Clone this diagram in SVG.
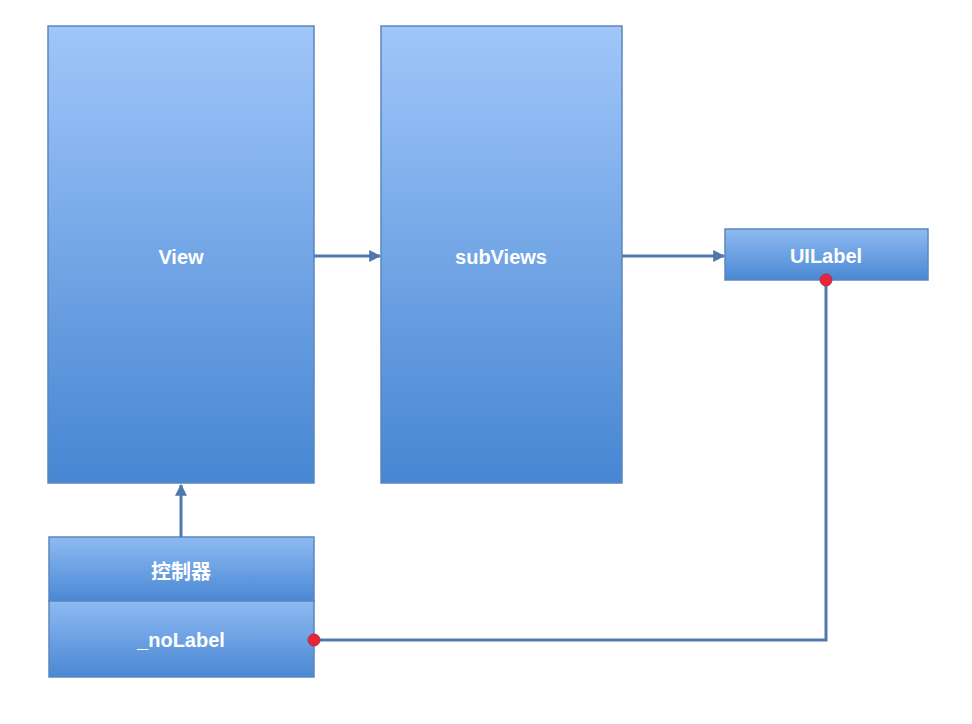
<svg xmlns="http://www.w3.org/2000/svg" width="972" height="724" viewBox="0 0 972 724">
<defs>
<linearGradient id="gTall" x1="0" y1="0" x2="0" y2="1">
<stop offset="0" stop-color="#A0C6FA"/>
<stop offset="1" stop-color="#4686D2"/>
</linearGradient>
<linearGradient id="gShort" x1="0" y1="0" x2="0" y2="1">
<stop offset="0" stop-color="#8EBAF2"/>
<stop offset="1" stop-color="#4A88D4"/>
</linearGradient>
<marker id="arr" viewBox="0 0 10 10" refX="9" refY="5" markerWidth="4" markerHeight="4" orient="auto" markerUnits="strokeWidth">
<path d="M0,0 L10,5 L0,10 z" fill="#4F78AC"/>
</marker>
<style>
.box{stroke:#5C86BC;stroke-width:1.5}
.lbl{font-family:"Liberation Sans","Noto Sans CJK SC",sans-serif;font-size:20px;font-weight:bold;fill:#FFFFFF;text-anchor:middle;dominant-baseline:central}
.con{fill:none;stroke:#4F78AC;stroke-width:3}
.dot{fill:#E8253A;stroke:#B0303E;stroke-width:1}
</style>
</defs>
<rect width="972" height="724" fill="#FFFFFF"/>
<g id="view"><rect class="box" x="48" y="26" width="266" height="457" fill="url(#gTall)"/><text class="lbl" x="181" y="257">View</text></g>
<g id="subviews"><rect class="box" x="381" y="26" width="241" height="457" fill="url(#gTall)"/><text class="lbl" x="501" y="257">subViews</text></g>
<g id="uilabel"><rect class="box" x="725" y="229" width="203" height="51" fill="url(#gShort)"/><text class="lbl" x="826" y="256">UILabel</text></g>
<g id="controller"><rect class="box" x="49" y="537" width="265" height="64" fill="url(#gShort)"/><text class="lbl" x="181" y="572">控制器</text></g>
<g id="nolabel"><rect class="box" x="49" y="601" width="265" height="76" fill="url(#gShort)"/><text class="lbl" x="181" y="640">_noLabel</text></g>
<g id="connectors">
<line class="con" x1="314" y1="256" x2="380" y2="256" marker-end="url(#arr)"/>
<line class="con" x1="622" y1="256" x2="724" y2="256" marker-end="url(#arr)"/>
<line class="con" x1="181" y1="537" x2="181" y2="485" marker-end="url(#arr)"/>
<polyline class="con" points="314,640 826,640 826,280"/>
<circle class="dot" cx="314" cy="640" r="6"/>
<circle class="dot" cx="826" cy="280" r="6"/>
</g>
</svg>
